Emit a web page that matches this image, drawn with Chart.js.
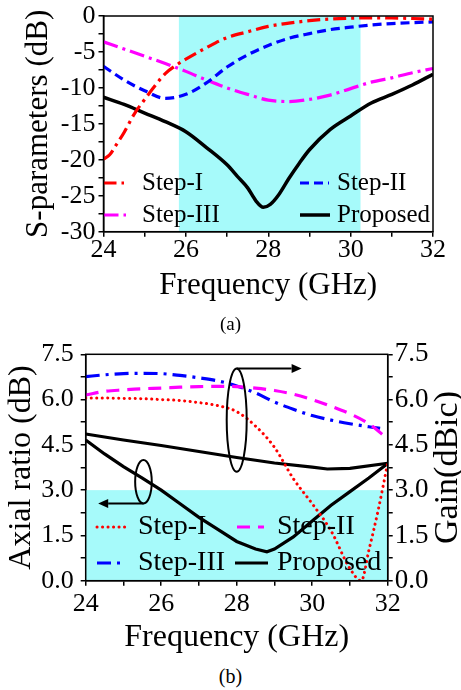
<!DOCTYPE html>
<html><head><meta charset="utf-8">
<script src="https://cdn.jsdelivr.net/npm/chart.js@4.4.1/dist/chart.umd.min.js"></script>
<style>
html,body{margin:0;padding:0;background:#fff;width:461px;height:690px;overflow:hidden}
#wrap{position:relative;width:461px;height:690px}
canvas{position:absolute;left:0}
.cap{position:absolute;left:0;width:461px;text-align:center;font-family:'Liberation Serif','Times New Roman',serif;color:#000;line-height:1}
</style></head><body>
<div id="wrap">
<canvas id="ca" width="461" height="304" style="top:0px;width:461px;height:304px"></canvas>
<canvas id="cb" width="461" height="330" style="top:330px;width:461px;height:330px"></canvas>
<div class="cap" style="top:314px;font-size:19px">(a)</div>
<div class="cap" style="top:666px;font-size:20px">(b)</div>
</div>
<script>
// ---------- (a) S-parameters ----------
const fA1   = [24,24.15,24.3,24.5,24.75,25,25.25,25.5,25.75,26,26.5,27,27.5,28,28.5,29,29.5,30,30.5,31,31.5,32];
const sStep1 = [-19.9,-19.3,-18.0,-16.2,-13.6,-11.6,-9.7,-8.0,-6.9,-6.0,-4.4,-3.0,-2.2,-1.45,-1.0,-0.65,-0.42,-0.3,-0.25,-0.28,-0.35,-0.45];
const fA    = [24,24.5,25,25.5,26,26.5,27,27.5,28,28.5,29,29.5,30,30.5,31,31.5,32];
const sStep2 = [-7.0,-8.9,-10.4,-11.45,-10.9,-9.3,-7.1,-5.4,-4.1,-3.1,-2.45,-1.9,-1.55,-1.25,-1.05,-0.92,-0.82];
const sStep3 = [-3.6,-4.6,-5.6,-6.6,-7.7,-8.9,-10.0,-10.9,-11.7,-11.9,-11.6,-11.0,-10.1,-9.2,-8.6,-7.9,-7.3];
const fA4   = [24,24.5,25,25.5,26,26.5,27,27.25,27.5,27.7,27.88,28.05,28.25,28.5,28.75,29,29.5,30,30.5,31,31.5,32];
const sProp = [-11.3,-12.3,-13.5,-14.7,-16.1,-18.3,-20.7,-22.3,-23.9,-25.7,-26.6,-26.2,-24.9,-22.6,-20.5,-18.6,-15.8,-13.9,-12.1,-10.9,-9.6,-8.1];
const bandA = [25.83, 30.24];           // shaded band (GHz)
const xTicksA = [24,26,28,30,32];
const yTicksA = [0,-5,-10,-15,-20,-25,-30];

// ---------- (b) Axial ratio / Gain ----------
const fB1    = [24,24.5,25,25.5,26,26.5,27,27.5,28,28.5,29,29.5,30,30.5,31,31.3,31.5,31.75,32];
const gStep1 = [6.05,6.05,6.04,6.03,6.0,5.97,5.9,5.8,5.6,5.12,4.42,3.38,2.55,1.65,0.4,0.0,1.0,2.35,3.9];
const fB     = [24,24.5,25,25.5,26,26.5,27,27.5,28,28.5,29,29.5,30,30.5,31,31.5,32];
const gStep2 = [6.15,6.27,6.32,6.36,6.38,6.41,6.43,6.44,6.43,6.38,6.3,6.18,6.0,5.78,5.53,5.2,4.7];
const fB3    = [24,24.5,25,25.5,26,26.5,27,27.5,28,28.5,29,29.5,30,30.5,31,31.5,31.8];
const gStep3 = [6.76,6.82,6.86,6.87,6.86,6.8,6.72,6.62,6.45,6.22,5.92,5.68,5.47,5.32,5.2,5.1,5.05];
const fB4    = [24,25,26,27,28,29,30,30.4,31,32];
const gProp  = [4.86,4.66,4.48,4.28,4.08,3.9,3.76,3.7,3.72,3.89];
const fB5    = [24,24.5,25,25.5,26,26.5,27,27.5,28,28.5,28.8,29,29.5,30,30.5,31,31.5,32];
const arProp = [4.66,4.2,3.78,3.4,3.0,2.55,2.1,1.7,1.3,1.05,0.96,1.05,1.45,1.98,2.5,2.95,3.4,3.88];
const bandB = [0, 3.0];                 // shaded AR band (dB)
const yTicksB = [0,1.5,3.0,4.5,6.0,7.5];

const FONT = "'Liberation Serif','Times New Roman',serif";
Chart.defaults.font.family = FONT;
Chart.defaults.color = '#000';
const CYAN = '#a6fafa';
const pts = (xs, ys) => xs.map((x, i) => ({x, y: ys[i]}));

function lineDs(label, xs, ys, color, dash, extra) {
  return Object.assign({
    label, data: pts(xs, ys), borderColor: color, backgroundColor: color,
    borderWidth: 3.2, borderDash: dash, pointRadius: 0, fill: false,
    cubicInterpolationMode: 'monotone'
  }, extra || {});
}

const boxPlugin = {
  id: 'box',
  afterDraw(chart) {
    const {ctx, chartArea: a} = chart;
    ctx.save(); ctx.strokeStyle = '#000'; ctx.lineWidth = 1.5;
    ctx.strokeRect(a.left, a.top, a.right - a.left, a.bottom - a.top);
    ctx.restore();
  }
};

function legendPlugin(items, size) {
  return {
    id: 'customLegend',
    afterDatasetsDraw(chart) {
      const ctx = chart.ctx;
      items.forEach(it => {
        const ds = chart.data.datasets[it.ds];
        ctx.save();
        ctx.strokeStyle = ds.borderColor; ctx.lineWidth = ds.borderWidth;
        ctx.setLineDash(ds.borderDash || []); ctx.lineCap = ds.borderCapStyle || 'butt';
        ctx.beginPath(); ctx.moveTo(it.x0, it.y); ctx.lineTo(it.x1, it.y); ctx.stroke();
        ctx.setLineDash([]);
        ctx.fillStyle = '#000'; ctx.font = size + 'px ' + FONT;
        ctx.textBaseline = 'middle'; ctx.textAlign = 'left';
        ctx.fillText(ds.label, it.tx, it.y);
        ctx.restore();
      });
    }
  };
}

function axisCommon(size) {
  return {
    grid: {display: true, drawOnChartArea: false, drawTicks: true, tickLength: 5, color: '#000', lineWidth: 1.5},
    border: {display: true, color: '#000', width: 1.5}
  };
}

// ---- chart (a)
const bandPluginA = {
  id: 'bandA',
  beforeDatasetsDraw(chart) {
    const {ctx, chartArea: a, scales} = chart;
    const x0 = scales.x.getPixelForValue(bandA[0]), x1 = scales.x.getPixelForValue(bandA[1]);
    ctx.save(); ctx.fillStyle = CYAN; ctx.fillRect(x0, a.top, x1 - x0, a.bottom - a.top); ctx.restore();
  }
};

new Chart(document.getElementById('ca'), {
  type: 'line',
  data: {datasets: [
    lineDs('Step-I', fA1, sStep1, '#ff0000', [13,5,3,5]),
    lineDs('Step-II', fA, sStep2, '#0000ff', [9,5]),
    lineDs('Step-III', fA, sStep3, '#ff00ff', [15,5,3,5]),
    lineDs('Proposed', fA4, sProp, '#000000', [], {borderWidth: 3.5})
  ]},
  options: {
    responsive: false, animation: false, devicePixelRatio: 1,
    layout: {padding: {top: 14, right: 28, left: 0, bottom: 0}},
    plugins: {legend: {display: false}, tooltip: {enabled: false}},
    scales: {
      x: Object.assign(axisCommon(), {
        type: 'linear', min: 24, max: 32,
        ticks: {stepSize: 1, autoSkip: false, maxRotation: 0, padding: 0,
          font: {size: 26, lineHeight: 1}, color: '#000',
          callback: v => xTicksA.includes(v) ? String(v) : ''},
        title: {display: true, text: 'Frequency (GHz)', font: {size: 31, lineHeight: 1.2}, color: '#000', padding: {top: 0, bottom: 0}},
        afterFit(s) { s.height = 304 - 231.7; }
      }),
      y: Object.assign(axisCommon(), {
        type: 'linear', min: -30, max: 0,
        ticks: {stepSize: 2.5, autoSkip: false, padding: 3,
          font: {size: 26, lineHeight: 1}, color: '#000',
          callback: v => yTicksA.includes(v) ? String(v) : ''},
        title: {display: true, text: 'S-parameters (dB)', font: {size: 31, lineHeight: 1.2}, color: '#000', padding: {top: 20, bottom: 0}},
        afterFit(s) { s.width = 103.5; }
      })
    }
  },
  plugins: [bandPluginA, boxPlugin, legendPlugin([
    {ds: 0, x0: 103.5, x1: 124, tx: 142, y: 183},
    {ds: 2, x0: 103.5, x1: 126, tx: 142, y: 215},
    {ds: 1, x0: 300, x1: 329, tx: 337, y: 183},
    {ds: 3, x0: 300, x1: 330, tx: 337, y: 215}
  ], 25)]
});

// ---- chart (b)
const ell1 = {cx: 28.0, cy: 5.32, rx: 0.265, ry: 1.71, arrowTo: 29.72};
const ell2 = {cx: 25.53, cy: 3.28, rx: 0.22, ry: 0.72, arrowTo: 24.33};

const bandPluginB = {
  id: 'bandB',
  beforeDatasetsDraw(chart) {
    const {ctx, chartArea: a, scales} = chart;
    const y0 = scales.y.getPixelForValue(bandB[1]), y1 = scales.y.getPixelForValue(bandB[0]);
    ctx.save(); ctx.fillStyle = CYAN; ctx.fillRect(a.left, y0, a.right - a.left, y1 - y0); ctx.restore();
  }
};

function arrow(ctx, x0, y, x1) {
  const dir = Math.sign(x1 - x0), head = 10;
  ctx.beginPath(); ctx.moveTo(x0, y); ctx.lineTo(x1 - dir * head, y); ctx.stroke();
  ctx.beginPath(); ctx.moveTo(x1, y); ctx.lineTo(x1 - dir * head, y - 4.5); ctx.lineTo(x1 - dir * head, y + 4.5); ctx.closePath(); ctx.fill();
}

const annotPlugin = {
  id: 'annot',
  afterDatasetsDraw(chart) {
    const {ctx, scales: {x, y}} = chart;
    ctx.save(); ctx.strokeStyle = '#000'; ctx.fillStyle = '#000'; ctx.lineWidth = 2;
    // upper ellipse (gain) with arrow to the right
    let cx = x.getPixelForValue(ell1.cx), cy = y.getPixelForValue(ell1.cy);
    let rx = x.getPixelForValue(ell1.cx + ell1.rx) - cx, ry = cy - y.getPixelForValue(ell1.cy + ell1.ry);
    ctx.beginPath(); ctx.ellipse(cx, cy, rx, ry, 0, 0, Math.PI * 2); ctx.stroke();
    arrow(ctx, cx, cy - ry, x.getPixelForValue(ell1.arrowTo));
    // lower ellipse (AR) with arrow to the left
    cx = x.getPixelForValue(ell2.cx); cy = y.getPixelForValue(ell2.cy);
    rx = x.getPixelForValue(ell2.cx + ell2.rx) - cx; ry = cy - y.getPixelForValue(ell2.cy + ell2.ry);
    ctx.beginPath(); ctx.ellipse(cx, cy, rx, ry, 0, 0, Math.PI * 2); ctx.stroke();
    arrow(ctx, cx, cy + ry, x.getPixelForValue(ell2.arrowTo));
    ctx.restore();
  }
};

const rightTitlePlugin = {
  id: 'rightTitle',
  afterDraw(chart) {
    const {ctx, chartArea: a} = chart;
    ctx.save();
    ctx.translate(chart.width - 13, (a.top + a.bottom) / 2);
    ctx.rotate(-Math.PI / 2);
    ctx.font = '34px ' + FONT; ctx.fillStyle = '#000';
    ctx.textAlign = 'center'; ctx.textBaseline = 'middle';
    ctx.fillText('Gain(dBic)', 0, 0);
    ctx.restore();
  }
};

const tickB = v => {
  const k = Math.round(v / 0.75);
  return k % 2 === 0 ? (k * 0.75).toFixed(1) : '';
};

new Chart(document.getElementById('cb'), {
  type: 'line',
  data: {datasets: [
    lineDs('Step-I', fB1, gStep1, '#ff0000', [0.1,5.4], {borderCapStyle: 'round', borderWidth: 3, yAxisID: 'y2'}),
    lineDs('Step-II', fB, gStep2, '#ff00ff', [13,8], {yAxisID: 'y2'}),
    lineDs('Step-III', fB3, gStep3, '#0000ff', [14,6,3,6], {yAxisID: 'y2'}),
    lineDs('Proposed', fB4, gProp, '#000000', [], {yAxisID: 'y2', cubicInterpolationMode: 'default', tension: 0}),
    lineDs('Proposed AR', fB5, arProp, '#000000', [], {yAxisID: 'y', cubicInterpolationMode: 'default', tension: 0})
  ]},
  options: {
    responsive: false, animation: false, devicePixelRatio: 1,
    layout: {padding: {top: 24.3, right: 0, left: 0, bottom: 0}},
    plugins: {legend: {display: false}, tooltip: {enabled: false}},
    scales: {
      x: Object.assign(axisCommon(), {
        type: 'linear', min: 24, max: 32,
        ticks: {stepSize: 1, autoSkip: false, maxRotation: 0, padding: 5,
          font: {size: 26, lineHeight: 1}, color: '#000',
          callback: v => xTicksA.includes(v) ? String(v) : ''},
        title: {display: true, text: 'Frequency (GHz)', font: {size: 32, lineHeight: 1.2}, color: '#000', padding: {top: 0, bottom: 3}},
        afterFit(s) { s.height = 330 - 250.7; }
      }),
      y: Object.assign(axisCommon(), {
        type: 'linear', position: 'left', min: 0, max: 7.5,
        ticks: {stepSize: 0.75, autoSkip: false, padding: 7,
          font: {size: 26, lineHeight: 1}, color: '#000', callback: tickB},
        title: {display: true, text: 'Axial ratio (dB)', font: {size: 32, lineHeight: 1.2}, color: '#000', padding: {top: 2.5, bottom: 0}},
        afterFit(s) { s.width = 85.7; }
      }),
      y2: Object.assign(axisCommon(), {
        type: 'linear', position: 'right', min: 0, max: 7.5,
        ticks: {stepSize: 0.75, autoSkip: false, padding: 2,
          font: {size: 27, lineHeight: 1}, color: '#000', callback: tickB},
        title: {display: false, text: 'Gain(dBic)'},
        afterFit(s) { s.width = 461 - 387.7; }
      })
    }
  },
  plugins: [bandPluginB, boxPlugin, annotPlugin, rightTitlePlugin, legendPlugin([
    {ds: 0, x0: 97, x1: 127, tx: 138, y: 197},
    {ds: 2, x0: 97, x1: 124, tx: 138, y: 233},
    {ds: 1, x0: 237, x1: 264, tx: 277, y: 197},
    {ds: 3, x0: 235, x1: 268, tx: 277, y: 233}
  ], 28)]
});
</script>
</body></html>
